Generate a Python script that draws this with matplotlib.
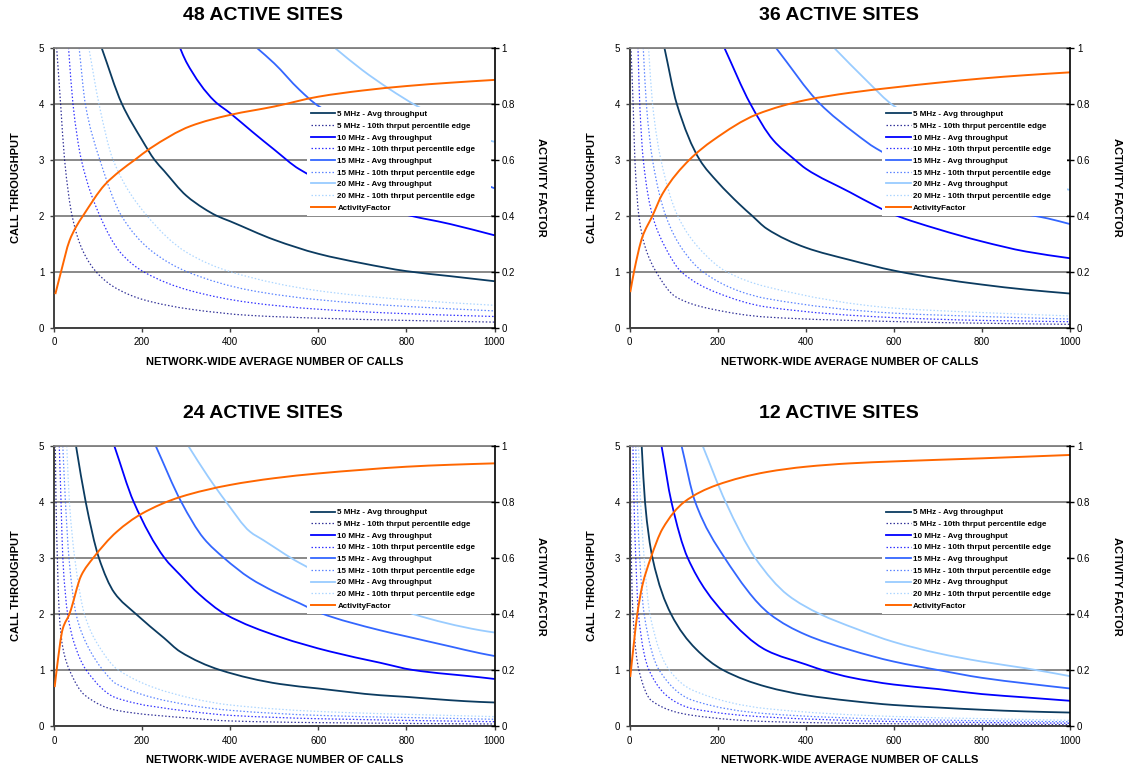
import numpy as np
import matplotlib
matplotlib.use("Agg")
import matplotlib.pyplot as plt
from matplotlib.path import Path
from matplotlib.patches import PathPatch
from matplotlib.lines import Line2D

plt.rcParams['font.family'] = ['Liberation Sans', 'DejaVu Sans']

# ---------------------------------------------------------------- data
# (calls, throughput) pairs, one tuple per series

# 48 active sites
avg5_48 = ([108, 154, 200, 228, 250, 300, 340, 369, 400, 500, 600, 700, 800, 900, 1000],
           [5, 4, 3.35, 3, 2.80, 2.36, 2.13, 2.0, 1.9, 1.57, 1.32, 1.15, 1.01, 0.92, 0.83])
avg10_48 = ([286, 300, 364, 400, 450, 500, 557, 789, 900, 1000],
            [5, 4.75, 4.05, 3.83, 3.5, 3.18, 2.83, 2.04, 1.85, 1.65])
avg15_48 = ([460, 500, 557, 600, 990, 1000],
            [5, 4.72, 4.25, 3.96, 2.52, 2.49])
avg20_48 = ([637, 700, 760, 826, 990, 1000],
            [5, 4.6, 4.27, 3.95, 3.34, 3.32])
p10_5_48 = ([6, 15, 24, 41, 65, 100, 142, 203, 310, 444, 600, 800, 1000],
            [5, 4, 3, 2, 1.38, 0.96, 0.70, 0.50, 0.33, 0.22, 0.17, 0.13, 0.10])
p10_10_48 = ([33, 43, 62, 104, 150, 203, 310, 444, 600, 800, 1000],
             [5, 4, 3, 2, 1.35, 1.0, 0.66, 0.45, 0.33, 0.25, 0.20])
p10_15_48 = ([57, 71, 104, 153, 220, 302, 444, 600, 800, 1000],
             [5, 4, 3, 2, 1.38, 1.0, 0.67, 0.50, 0.38, 0.30])
p10_20_48 = ([79, 102, 134, 211, 300, 400, 600, 800, 1000],
             [5, 4, 3, 2, 1.35, 1.0, 0.66, 0.50, 0.40])
af_48 = ([3, 16, 35, 50, 66, 115, 150, 184, 218, 310, 400, 500, 600, 700, 800, 900, 1000],
         [0.12, 0.20, 0.31, 0.36, 0.40, 0.51, 0.56, 0.60, 0.64, 0.72, 0.76, 0.79, 0.825, 0.847, 0.863, 0.875, 0.885])

# 36 active sites
avg5_36 = ([79, 107, 159, 200, 250, 278, 311, 400, 500, 600, 700, 800, 900, 1000],
           [5, 4, 3, 2.6, 2.2, 2.0, 1.77, 1.43, 1.21, 1.02, 0.88, 0.77, 0.68, 0.61])
avg10_36 = ([215, 274, 326, 375, 400, 500, 560, 600, 700, 800, 900, 1000],
            [5, 4, 3.35, 3.0, 2.84, 2.42, 2.17, 2.02, 1.76, 1.54, 1.36, 1.24])
avg15_36 = ([332, 432, 512, 560, 893, 950, 1000],
            [5, 4, 3.47, 3.2, 2.04, 1.95, 1.85])
avg20_36 = ([464, 537, 600, 994, 1000],
            [5, 4.42, 3.96, 2.47, 2.46])
p10_5_36 = ([3, 8, 12, 21, 35, 60, 105, 182, 311, 600, 800, 1000],
            [5, 4, 3, 2, 1.45, 1.0, 0.55, 0.34, 0.19, 0.11, 0.08, 0.06])
p10_10_36 = ([19, 23, 31, 52, 80, 117, 200, 311, 600, 800, 1000],
             [5, 4, 3, 2, 1.45, 1.0, 0.62, 0.37, 0.18, 0.13, 0.107])
p10_15_36 = ([31, 38, 52, 82, 120, 166, 250, 311, 600, 800, 1000],
             [5, 4, 3, 2, 1.4, 1.0, 0.65, 0.52, 0.26, 0.2, 0.155])
p10_20_36 = ([43, 52, 71, 109, 160, 220, 311, 600, 800, 1000],
             [5, 4, 3, 2, 1.4, 1.0, 0.73, 0.35, 0.27, 0.21])
af_36 = ([1.5, 10, 29, 52, 75, 136, 189, 289, 400, 500, 600, 700, 800, 900, 1000],
         [0.127, 0.2, 0.324, 0.4, 0.479, 0.6, 0.669, 0.762, 0.813, 0.839, 0.858, 0.875, 0.89, 0.902, 0.912])

# 24 active sites
avg5_24 = ([50, 72, 102, 137, 186, 250, 286, 377, 513, 600, 740, 800, 900, 967, 1000],
           [5, 4, 3, 2.38, 2.0, 1.57, 1.33, 1.0, 0.75, 0.67, 0.55, 0.52, 0.46, 0.43, 0.42])
avg10_24 = ([137, 181, 251, 286, 330, 388, 513, 627, 740, 815, 967, 1000],
            [5, 4, 3, 2.70, 2.35, 2.0, 1.59, 1.33, 1.13, 1.0, 0.87, 0.84])
avg15_24 = ([231, 289, 340, 386, 445, 500, 558, 604, 740, 800, 900, 967, 1000],
            [5, 4, 3.35, 3.0, 2.64, 2.4, 2.19, 2.02, 1.71, 1.60, 1.42, 1.30, 1.25])
avg20_24 = ([305, 350, 391, 445, 475, 558, 815, 967, 1000],
            [5, 4.45, 4.0, 3.47, 3.32, 2.91, 2.0, 1.71, 1.67])
p10_5_24 = ([3, 4.6, 7.6, 12, 20, 35, 70, 142, 310, 400, 600, 1000],
            [5, 4, 3, 2, 1.4, 1.0, 0.55, 0.28, 0.14, 0.09, 0.06, 0.036])
p10_10_24 = ([12, 16, 20, 31, 45, 73, 142, 310, 400, 600, 1000],
             [5, 4, 3, 2, 1.5, 1.0, 0.5, 0.26, 0.19, 0.13, 0.077])
p10_15_24 = ([20, 26, 34, 50, 75, 111, 142, 310, 400, 600, 1000],
             [5, 4, 3, 2, 1.45, 1.0, 0.75, 0.37, 0.28, 0.19, 0.12])
p10_20_24 = ([29, 35, 47, 69, 100, 146, 310, 400, 600, 1000],
             [5, 4, 3, 2, 1.45, 1.0, 0.5, 0.375, 0.26, 0.167])
af_24 = ([1.5, 6, 20, 35, 62, 89, 142, 199, 287, 400, 500, 600, 700, 800, 900, 1000],
         [0.139, 0.2, 0.348, 0.4, 0.538, 0.6, 0.693, 0.758, 0.818, 0.861, 0.885, 0.902, 0.915, 0.926, 0.933, 0.938])

# 12 active sites
avg5_12 = ([27.5, 35, 52, 94, 150, 212, 311, 400, 500, 600, 700, 800, 900, 1000],
           [5, 4, 3, 2, 1.38, 1.0, 0.70, 0.55, 0.45, 0.375, 0.33, 0.29, 0.26, 0.24])
avg10_12 = ([72.5, 95, 132, 216, 311, 400, 450, 500, 600, 700, 800, 900, 1000],
            [5, 4, 3, 2, 1.35, 1.1, 0.97, 0.87, 0.74, 0.66, 0.57, 0.51, 0.45])
avg15_12 = ([118, 149, 216, 318, 400, 500, 600, 700, 800, 900, 1000],
            [5, 4, 3, 2.0, 1.63, 1.36, 1.15, 1.0, 0.86, 0.76, 0.67])
avg20_12 = ([166, 218, 286, 359, 432, 513, 600, 700, 800, 900, 1000],
            [5, 4, 2.99, 2.34, 2.0, 1.74, 1.5, 1.3, 1.15, 1.03, 0.89])
p10_5_12 = ([1.5, 2.3, 4, 7.6, 21, 50, 143, 311, 600, 1000],
            [5, 4, 3, 2, 1.0, 0.45, 0.19, 0.08, 0.04, 0.025])
p10_10_12 = ([7.6, 10, 14, 20, 44, 100, 143, 311, 600, 1000],
             [5, 4, 3, 2, 1.0, 0.45, 0.31, 0.16, 0.08, 0.05])
p10_15_12 = ([14, 17.5, 23, 33, 67, 143, 311, 600, 1000],
             [5, 4, 3, 2, 1.0, 0.46, 0.22, 0.12, 0.075])
p10_20_12 = ([20, 25, 33, 46, 90, 143, 311, 600, 1000],
             [5, 4, 3, 2, 1.0, 0.64, 0.31, 0.17, 0.10])
af_12 = ([1.5, 10, 17.5, 29, 48, 75, 124, 197, 311, 400, 500, 600, 800, 1000],
         [0.175, 0.3, 0.4, 0.502, 0.6, 0.705, 0.8, 0.86, 0.907, 0.926, 0.938, 0.945, 0.956, 0.968])

titles = ["48 ACTIVE SITES", "36 ACTIVE SITES", "24 ACTIVE SITES", "12 ACTIVE SITES"]
series_labels = ["5 MHz - Avg throughput", "5 MHz - 10th thrput percentile edge",
                 "10 MHz - Avg throughput", "10 MHz - 10th thrput percentile edge",
                 "15 MHz - Avg throughput", "15 MHz - 10th thrput percentile edge",
                 "20 MHz - Avg throughput", "20 MHz - 10th thrput percentile edge"]
af_label = "ActivityFactor"

panels = [
    [avg5_48, p10_5_48, avg10_48, p10_10_48, avg15_48, p10_15_48, avg20_48, p10_20_48, af_48],
    [avg5_36, p10_5_36, avg10_36, p10_10_36, avg15_36, p10_15_36, avg20_36, p10_20_36, af_36],
    [avg5_24, p10_5_24, avg10_24, p10_10_24, avg15_24, p10_15_24, avg20_24, p10_20_24, af_24],
    [avg5_12, p10_5_12, avg10_12, p10_10_12, avg15_12, p10_15_12, avg20_12, p10_20_12, af_12],
]

# ---------------------------------------------------------------- styles
colors = ['#0B3B60', '#000080', '#0000FF', '#0000FF',
          '#3366FF', '#3366FF', '#99CCFF', '#99CCFF']
dotted = (0, (1.2, 1.6))
orange = '#FF6600'
grid_c = '#808080'


# smoothed line like excel: bezier path through the read points
def smooth_path(x, y):
    x = np.asarray(x, float)
    y = np.asarray(y, float)
    h = np.diff(x)
    d = np.diff(y) / h
    m = np.empty_like(x)
    m[0], m[-1] = d[0], d[-1]
    for i in range(1, len(x) - 1):
        if d[i - 1] * d[i] <= 0:
            m[i] = 0.0
        else:
            w1 = 2 * h[i] + h[i - 1]
            w2 = h[i] + 2 * h[i - 1]
            m[i] = (w1 + w2) / (w1 / d[i - 1] + w2 / d[i])
    verts = [(x[0], y[0])]
    codes = [Path.MOVETO]
    for i in range(len(x) - 1):
        verts += [(x[i] + h[i] / 3, y[i] + m[i] * h[i] / 3),
                  (x[i + 1] - h[i] / 3, y[i + 1] - m[i + 1] * h[i] / 3),
                  (x[i + 1], y[i + 1])]
        codes += [Path.CURVE4] * 3
    return Path(verts, codes)


W, H = 1129, 769
fig = plt.figure(figsize=(W / 100, H / 100), dpi=100)

# axes boxes in pixels: left, top
boxes = [(54, 47.7), (629.6, 47.7), (54, 446), (629.6, 446)]
ax_w, ax_h = 440.5, 280

for k, (left, top) in enumerate(boxes):
    ax = fig.add_axes([left / W, 1 - (top + ax_h) / H, ax_w / W, ax_h / H])
    ax2 = ax.twinx()
    data = panels[k]

    handles = []
    for i in range(8):
        x, y = data[i]
        if i % 2 == 0:
            style = dict(color=colors[i], linestyle='-', lw=1.3)
        else:
            style = dict(color=colors[i], linestyle=dotted, lw=0.9, alpha=0.8)
        ax.add_patch(PathPatch(smooth_path(x, y), fill=False, zorder=2,
                               edgecolor=style['color'], linestyle=style['linestyle'],
                               lw=style['lw'], alpha=style.get('alpha', 1)))
        handles.append(Line2D([], [], label=series_labels[i], **style))
    x, y = data[8]
    ax2.add_patch(PathPatch(smooth_path(x, y), fill=False, edgecolor=orange, lw=1.4))
    handles.append(Line2D([], [], color=orange, lw=1.4, label=af_label))

    ax.set_xlim(0, 1000)
    ax.set_ylim(0, 5)
    ax2.set_ylim(0, 1)
    ax.set_xticks(range(0, 1001, 200))
    ax.set_yticks(range(0, 6))
    ax2.set_yticks([0, 0.2, 0.4, 0.6, 0.8, 1])
    ax2.set_yticklabels(['0', '0.2', '0.4', '0.6', '0.8', '1'])

    ax.grid(axis='y', color=grid_c, lw=1.3)
    ax.set_axisbelow(True)
    for s in ['left', 'bottom']:
        ax.spines[s].set_color('#404040')
        ax.spines[s].set_linewidth(1.4)
    ax.spines['top'].set_color(grid_c)
    ax.spines['top'].set_linewidth(1.3)
    ax.spines['right'].set_visible(False)
    for s in ['left', 'bottom', 'top']:
        ax2.spines[s].set_visible(False)
    ax2.spines['right'].set_color('black')
    ax2.spines['right'].set_linewidth(1.2)

    ax.tick_params(axis='both', labelsize=7, length=3, width=1, color='#404040', pad=4)
    ax2.tick_params(axis='y', labelsize=7, direction='inout', length=6, width=1,
                    color='black', pad=2)

    leg = ax2.legend(handles=handles, loc='upper left', mode='expand',
                     bbox_to_anchor=(0.574, 0.79, 0.418, 0),
                     fontsize=5.8, frameon=True, fancybox=False,
                     edgecolor='none', facecolor='white', framealpha=1,
                     borderpad=0.5, borderaxespad=0, labelspacing=0.5,
                     handlelength=3.0, handletextpad=0.3)
    for t in leg.get_texts():
        t.set_fontweight('bold')

    cx = (left + ax_w / 2) / W
    ty = 15 if top < 100 else 413
    fig.text(cx - 11 / W, 1 - ty / H, titles[k], ha='center', va='center',
             fontsize=14, fontweight='bold')
    fig.text(cx, 1 - (top + ax_h + 34) / H, "NETWORK-WIDE AVERAGE NUMBER OF CALLS",
             ha='center', va='center', fontsize=8, fontweight='bold')
    cy = 1 - (top + ax_h / 2) / H
    fig.text((left - 38) / W, cy, "CALL THROUGHPUT", rotation=90,
             ha='center', va='center', fontsize=8, fontweight='bold')
    fig.text((left + ax_w + 47) / W, cy, "ACTIVITY FACTOR", rotation=270,
             ha='center', va='center', fontsize=8, fontweight='bold')

fig.savefig("out.png", dpi=100, facecolor='white')
